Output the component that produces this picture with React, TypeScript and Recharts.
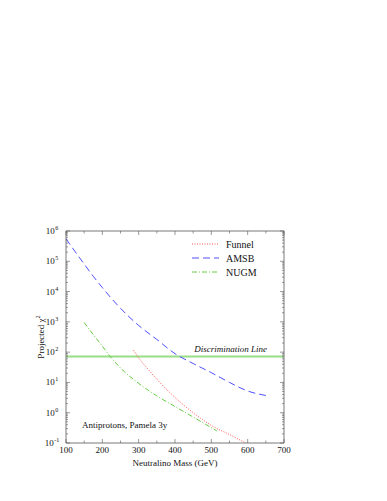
import { LineChart, Line, XAxis, YAxis, ReferenceLine, ReferenceArea } from 'recharts'

// Reference: neutralino mass vs projected chi^2 (antiprotons, Pamela 3y)
const funnelMass = [286, 300, 325, 355, 400, 450, 500, 550, 595]
const funnelChi2 = [115, 65, 28, 11, 3.2, 1.0, 0.38, 0.19, 0.1]

const amsbMass = [100, 125, 150, 175, 200, 250, 300, 350, 400, 450, 500, 550, 600, 650]
const amsbChi2 = [550000, 209000, 81000, 32000, 13500, 2800, 760, 263, 89, 42, 21, 10, 5.2, 3.7]

const nugmMass = [150, 175, 200, 220, 250, 300, 350, 400, 450, 515]
const nugmChi2 = [955, 380, 158, 76, 30, 9.3, 3.6, 1.6, 0.72, 0.25]

const DISCRIMINATION = 72

const xTicks = [100, 150, 200, 250, 300, 350, 400, 450, 500, 550, 600, 650, 700]
const yExponents = [-1, 0, 1, 2, 3, 4, 5, 6]

const SERIES = [
  { name: 'Funnel', mass: funnelMass, chi2: funnelChi2, color: '#ff5050', dash: '1 1.5' },
  { name: 'AMSB', mass: amsbMass, chi2: amsbChi2, color: '#4f4fff', dash: '7 4' },
  { name: 'NUGM', mass: nugmMass, chi2: nugmChi2, color: '#66cc44', dash: '5 2 1 2' },
]

const toPoints = (xs: number[], ys: number[]) => xs.map((x, i) => ({ x, y: ys[i] }))

// y ticks: majors at powers of ten, minors in between
const yTicks: number[] = []
yExponents.forEach((e) => {
  if (e === 6) {
    yTicks.push(1e6)
    return
  }
  for (let m = 1; m <= 9; m++) yTicks.push(m * Math.pow(10, e))
})

const W = 387
const H = 501
const LEFT = 66
const RIGHT = 284
const TOP = 231
const BOTTOM = 443
const FONT = '"Liberation Serif", "DejaVu Serif", serif'
const AXIS = '#555'

function YTick(props: any) {
  const { y, payload } = props
  const lg = Math.log10(payload.value)
  const e = Math.round(lg)
  const major = Math.abs(lg - e) < 1e-6
  const len = major ? 4 : 2
  return (
    <g>
      <line x1={LEFT} x2={LEFT + len} y1={y} y2={y} stroke={AXIS} strokeWidth={0.6} />
      <line x1={RIGHT} x2={RIGHT - len} y1={y} y2={y} stroke={AXIS} strokeWidth={0.6} />
      {major && (
        <text x={LEFT - 14} y={y + 3} textAnchor="middle" fontSize={9} fontFamily={FONT} fill="#111">
          10
          <tspan dx={0.5} dy={-4} fontSize={6}>{e}</tspan>
        </text>
      )}
    </g>
  )
}

function XTick(props: any) {
  const { x, payload } = props
  const major = payload.value % 100 === 0
  const len = major ? 4 : 2.5
  return (
    <g>
      <line x1={x} x2={x} y1={BOTTOM} y2={BOTTOM - len} stroke={AXIS} strokeWidth={0.6} />
      <line x1={x} x2={x} y1={TOP} y2={TOP + len} stroke={AXIS} strokeWidth={0.6} />
      {major && (
        <text x={x} y={BOTTOM + 10} textAnchor="middle" fontSize={9} fontFamily={FONT} fill="#111">
          {payload.value}
        </text>
      )}
    </g>
  )
}

function DiscLabel(props: any) {
  const { viewBox } = props
  return (
    <text x={RIGHT - 17} y={viewBox.y - 4} textAnchor="end" fontSize={9} fontStyle="italic" fontFamily={FONT} fill="#111">
      Discrimination Line
    </text>
  )
}

export default function App() {
  return (
    <div style={{ position: 'absolute', left: 0, top: 0, width: W, height: H, background: '#fff' }}>
      <LineChart
        width={W}
        height={H}
        margin={{ top: TOP, right: W - RIGHT, bottom: H - BOTTOM - 1, left: LEFT - 1 }}
      >
        <XAxis
          dataKey="x"
          type="number"
          domain={[100, 700]}
          ticks={xTicks}
          interval={0}
          height={1}
          axisLine={false}
          tickLine={false}
          tick={<XTick />}
          allowDataOverflow
        />
        <YAxis
          type="number"
          scale="log"
          domain={[0.1, 1e6]}
          ticks={yTicks}
          interval={0}
          width={1}
          axisLine={false}
          tickLine={false}
          tick={<YTick />}
          allowDataOverflow
        />
        <ReferenceArea x1={100} x2={700} y1={0.1} y2={1e6} fill="none" stroke={AXIS} strokeWidth={0.8} ifOverflow="visible" />
        <ReferenceLine y={DISCRIMINATION} stroke="#99dd88" strokeWidth={2} label={<DiscLabel />} />
        {SERIES.map((s) => (
          <Line
            key={s.name}
            data={toPoints(s.mass, s.chi2)}
            dataKey="y"
            name={s.name}
            type="monotone"
            stroke={s.color}
            strokeWidth={1}
            strokeDasharray={s.dash}
            dot={false}
            isAnimationActive={false}
          />
        ))}
        {SERIES.map((s, i) => (
          <g key={s.name}>
            <line x1={192} x2={219} y1={244 + i * 14} y2={244 + i * 14} stroke={s.color} strokeDasharray={s.dash} strokeWidth={1} />
            <text x={226} y={247.5 + i * 14} fontSize={10} fontFamily={FONT} fill="#111">{s.name}</text>
          </g>
        ))}
        <text x={82} y={428} fontSize={9} fontFamily={FONT} fill="#111">Antiprotons, Pamela 3y</text>
        <text x={175} y={466} textAnchor="middle" fontSize={9} fontFamily={FONT} fill="#111">Neutralino Mass (GeV)</text>
        <text x={44} y={337} transform="rotate(-90 44 337)" textAnchor="middle" fontSize={9} fontFamily={FONT} fill="#111">
          Projected χ
          <tspan dy={-4} fontSize={6}>2</tspan>
        </text>
      </LineChart>
    </div>
  )
}
